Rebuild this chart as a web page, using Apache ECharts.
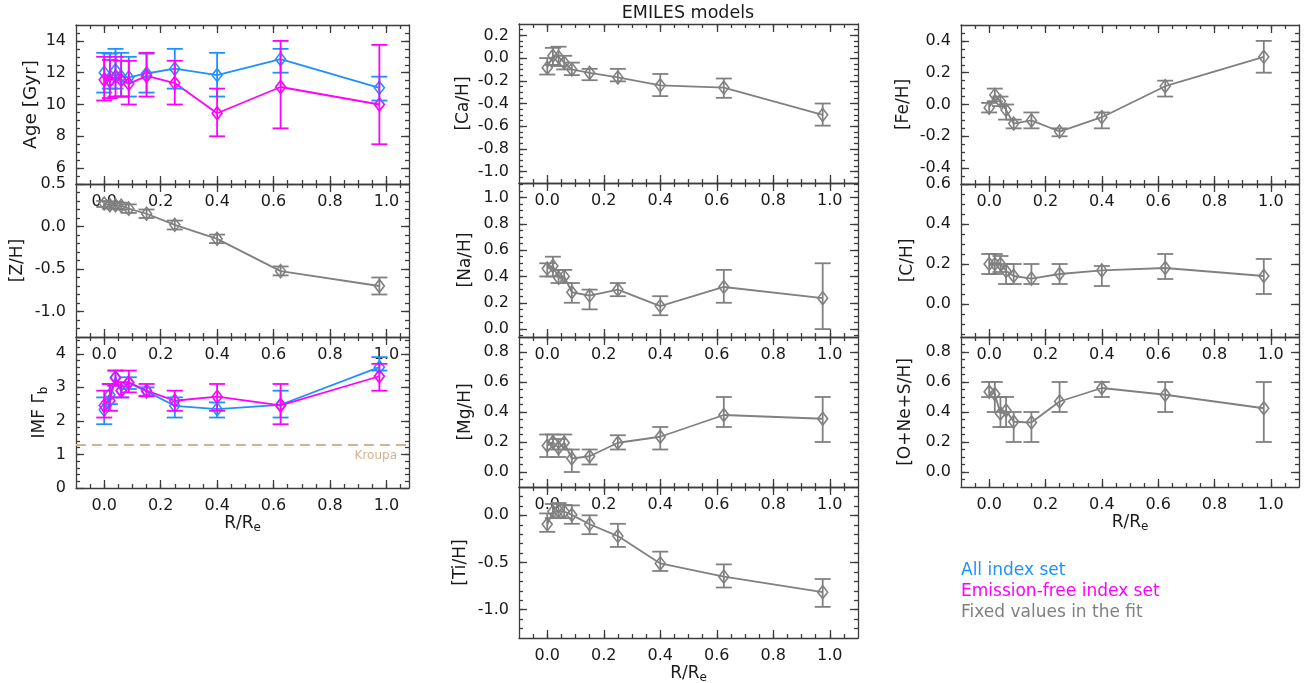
<!DOCTYPE html>
<html><head><meta charset="utf-8">
<script src="https://cdn.jsdelivr.net/npm/echarts@6/dist/echarts.min.js"></script>
<style>html,body{margin:0;padding:0;background:#fff}#c{width:1314px;height:683px}</style>
</head><body><div id="c"></div>
<script>
// ---------------- data ----------------
const R = [0.0, 0.02, 0.04, 0.06, 0.087, 0.15, 0.25, 0.40, 0.625, 0.975];
const xTickLabels = [0.0, 0.2, 0.4, 0.6, 0.8, 1.0];

const ageAll   = [12.0, 11.5, 12.15, 11.75, 11.7, 11.95, 12.25, 11.85, 12.85, 11.05];
const ageAllLo = [10.75, 11.0, 11.0, 10.5, 10.5, 10.75, 11.0, 10.5, 12.0, 10.25];
const ageAllHi = [13.25, 13.2, 13.5, 13.25, 13.0, 13.2, 13.5, 13.25, 13.5, 11.75];
const ageEF    = [11.55, 11.5, 11.75, 11.55, 11.3, 11.8, 11.35, 9.45, 11.1, 10.0];
const ageEFLo  = [10.25, 10.4, 10.5, 10.5, 10.0, 10.5, 10.0, 8.0, 8.5, 7.5];
const ageEFHi  = [13.0, 12.8, 13.0, 12.75, 12.75, 13.25, 12.75, 11.0, 14.0, 13.75];
const ageTicks = [6, 8, 10, 12, 14];

const zh   = [0.27, 0.25, 0.25, 0.245, 0.21, 0.15, 0.02, -0.145, -0.525, -0.70];
const zhLo = [0.23, 0.21, 0.21, 0.20, 0.16, 0.10, -0.035, -0.195, -0.575, -0.80];
const zhHi = [0.30, 0.29, 0.29, 0.28, 0.26, 0.20, 0.07, -0.095, -0.47, -0.60];
const zhTicks = [0.5, 0.0, -0.5, -1.0];

const imfAll   = [2.33, 2.78, 3.3, 2.9, 3.13, 2.88, 2.45, 2.35, 2.48, 3.6];
const imfAllLo = [1.9, 2.5, 3.05, 2.7, 2.95, 2.75, 2.1, 2.1, 2.1, 3.5];
const imfAllHi = [2.7, 3.1, 3.5, 3.15, 3.3, 3.0, 2.7, 2.55, 2.9, 3.9];
const imfEF    = [2.46, 2.6, 3.28, 2.9, 3.15, 2.9, 2.6, 2.72, 2.46, 3.33];
const imfEFLo  = [2.1, 2.3, 3.05, 2.7, 2.85, 2.73, 2.3, 2.3, 1.9, 2.9];
const imfEFHi  = [2.9, 3.1, 3.5, 3.15, 3.5, 3.1, 2.9, 3.1, 3.1, 3.7];
const imfTicks = [0, 1, 2, 3, 4];
const KROUPA = 1.3;

const cah   = [-0.085, 0.02, 0.01, -0.04, -0.10, -0.13, -0.17, -0.24, -0.26, -0.50];
const cahLo = [-0.145, -0.06, -0.07, -0.10, -0.15, -0.195, -0.205, -0.335, -0.35, -0.595];
const cahHi = [0.0, 0.09, 0.10, 0.02, -0.04, -0.095, -0.095, -0.14, -0.18, -0.40];
const cahTicks = [0.2, 0.0, -0.2, -0.4, -0.6, -0.8, -1.0];

const nah   = [0.46, 0.48, 0.39, 0.40, 0.28, 0.255, 0.30, 0.175, 0.32, 0.235];
const nahLo = [0.40, 0.40, 0.35, 0.35, 0.20, 0.15, 0.25, 0.105, 0.20, 0.0];
const nahHi = [0.50, 0.55, 0.45, 0.45, 0.35, 0.30, 0.35, 0.25, 0.45, 0.50];
const nahTicks = [0.0, 0.2, 0.4, 0.6, 0.8, 1.0];

const mgh   = [0.175, 0.20, 0.16, 0.195, 0.09, 0.105, 0.195, 0.235, 0.38, 0.355];
const mghLo = [0.10, 0.15, 0.10, 0.15, 0.0, 0.05, 0.15, 0.15, 0.30, 0.20];
const mghHi = [0.25, 0.25, 0.22, 0.25, 0.15, 0.15, 0.245, 0.30, 0.50, 0.50];
const mghTicks = [0.0, 0.2, 0.4, 0.6, 0.8];

const tih   = [-0.095, 0.04, 0.05, 0.04, 0.005, -0.095, -0.22, -0.51, -0.65, -0.815];
const tihLo = [-0.175, -0.03, -0.02, -0.03, -0.09, -0.20, -0.335, -0.59, -0.765, -0.97];
const tihHi = [0.02, 0.12, 0.13, 0.11, 0.105, 0.0, -0.09, -0.385, -0.52, -0.675];
const tihTicks = [0.0, -0.5, -1.0];

const feh   = [-0.02, 0.06, 0.02, -0.035, -0.12, -0.10, -0.17, -0.08, 0.115, 0.30];
const fehLo = [-0.05, 0.02, -0.01, -0.095, -0.15, -0.15, -0.20, -0.15, 0.05, 0.20];
const fehHi = [0.01, 0.10, 0.05, 0.0, -0.095, -0.05, -0.15, -0.05, 0.15, 0.40];
const fehTicks = [0.4, 0.2, 0.0, -0.2, -0.4];

const ch   = [0.20, 0.20, 0.20, 0.165, 0.14, 0.127, 0.15, 0.168, 0.18, 0.14];
const chLo = [0.15, 0.15, 0.16, 0.10, 0.10, 0.10, 0.10, 0.09, 0.125, 0.05];
const chHi = [0.25, 0.25, 0.24, 0.20, 0.20, 0.20, 0.20, 0.19, 0.25, 0.225];
const chTicks = [0.0, 0.2, 0.4, 0.6];

const ones   = [0.535, 0.52, 0.39, 0.41, 0.335, 0.33, 0.47, 0.56, 0.515, 0.425];
const onesLo = [0.50, 0.40, 0.30, 0.30, 0.20, 0.20, 0.40, 0.50, 0.40, 0.20];
const onesHi = [0.60, 0.60, 0.50, 0.50, 0.40, 0.40, 0.60, 0.60, 0.60, 0.60];
const onesTicks = [0.0, 0.2, 0.4, 0.6, 0.8];

const legendItems = ['All index set', 'Emission-free index set', 'Fixed values in the fit'];

// ---------------- style ----------------
const FONT = 'DejaVu Sans';
const BLUE = '#1e90ff', MAG = '#ff00ff', GREY = '#808080', TAN = '#d2b48c';
const FRAME = '#3c3c3c', TXT = '#1a1a1a';

const LX = {left: 76, width: 333, xmin: -0.1, xmax: 1.08};
const MX = {left: 519, width: 339, xmin: -0.1, xmax: 1.1};
const RX = {left: 961, width: 338, xmin: -0.1, xmax: 1.1};

const panels = [
  {col: LX, top: 25, height: 159, ymin: 5, ymax: 15, yTicks: ageTicks, yMinor: 0.5, dec: 0,
   name: 'Age [Gyr]', gap: 35, nameSize: 18.5,
   series: [{v: ageAll, lo: ageAllLo, hi: ageAllHi, c: BLUE}, {v: ageEF, lo: ageEFLo, hi: ageEFHi, c: MAG}]},
  {col: LX, top: 184, height: 153, ymin: -1.3, ymax: 0.5, yTicks: zhTicks, yMinor: 0.1, dec: 1,
   name: '[Z/H]', gap: 50, series: [{v: zh, lo: zhLo, hi: zhHi, c: GREY}]},
  {col: LX, top: 337, height: 151, ymin: 0, ymax: 4.5, yTicks: imfTicks, yMinor: 0.2, dec: 0,
   name: '{a|IMF Γ}{b|b}', gap: 26, xname: true, kroupa: true,
   series: [{v: imfAll, lo: imfAllLo, hi: imfAllHi, c: BLUE}, {v: imfEF, lo: imfEFLo, hi: imfEFHi, c: MAG}]},

  {col: MX, top: 24, height: 159, ymin: -1.1, ymax: 0.3, yTicks: cahTicks, yMinor: 0.05, dec: 1,
   name: '[Ca/H]', gap: 47, series: [{v: cah, lo: cahLo, hi: cahHi, c: GREY}]},
  {col: MX, top: 183, height: 154, ymin: -0.06, ymax: 1.11, yTicks: nahTicks, yMinor: 0.05, dec: 1,
   name: '[Na/H]', gap: 45, series: [{v: nah, lo: nahLo, hi: nahHi, c: GREY}]},
  {col: MX, top: 337, height: 150, ymin: -0.1, ymax: 0.9, yTicks: mghTicks, yMinor: 0.05, dec: 1,
   name: '[Mg/H]', gap: 45, series: [{v: mgh, lo: mghLo, hi: mghHi, c: GREY}]},
  {col: MX, top: 487, height: 151, ymin: -1.3, ymax: 0.3, yTicks: tihTicks, yMinor: 0.1, dec: 1,
   name: '[Ti/H]', gap: 50, xname: true, series: [{v: tih, lo: tihLo, hi: tihHi, c: GREY}]},

  {col: RX, top: 25, height: 159, ymin: -0.5, ymax: 0.5, yTicks: fehTicks, yMinor: 0.05, dec: 1,
   name: '[Fe/H]', gap: 49, series: [{v: feh, lo: fehLo, hi: fehHi, c: GREY}]},
  {col: RX, top: 184, height: 153, ymin: -0.165, ymax: 0.6, yTicks: chTicks, yMinor: 0.05, dec: 1,
   name: '[C/H]', gap: 45, series: [{v: ch, lo: chLo, hi: chHi, c: GREY}]},
  {col: RX, top: 337, height: 150, ymin: -0.1, ymax: 0.9, yTicks: onesTicks, yMinor: 0.05, dec: 1,
   name: '[O+Ne+S/H]', gap: 47, xname: true, series: [{v: ones, lo: onesLo, hi: onesHi, c: GREY}]}
];

function minorVals(min, max, step) {
  const out = [];
  const k0 = Math.ceil(min / step - 1e-9), k1 = Math.floor(max / step + 1e-9);
  for (let k = k0; k <= k1; k++) {
    const v = +(k * step).toFixed(6);
    if (v > min + 1e-9 && v < max - 1e-9) out.push(v);
  }
  return out;
}

const grids = [], xAxes = [], yAxes = [], series = [];
const lineSty = {color: FRAME, width: 1.3};
const richName = {
  a: {fontSize: 17, fontFamily: FONT, color: TXT},
  b: {fontSize: 12, fontFamily: FONT, color: TXT, verticalAlign: 'bottom', padding: [8, 0, 0, 0]}
};

panels.forEach((p, gi) => {
  const c = p.col;
  grids.push({left: c.left, top: p.top, width: c.width, height: p.height,
              containLabel: false, outerBoundsMode: 'none', show: false});
  const xMin = minorVals(c.xmin, c.xmax, 0.05);
  const yMin = minorVals(p.ymin, p.ymax, p.yMinor);
  const xbase = {gridIndex: gi, type: 'value', min: c.xmin, max: c.xmax, splitLine: {show: false}, silent: true};
  const ybase = {gridIndex: gi, type: 'value', min: p.ymin, max: p.ymax, splitLine: {show: false}, silent: true};
  const xMajor = Object.assign({}, xbase, {
    position: 'bottom',
    axisLine: {show: true, onZero: false, lineStyle: lineSty},
    axisTick: {show: true, inside: true, length: 8, customValues: xTickLabels, lineStyle: lineSty},
    axisLabel: {show: true, customValues: xTickLabels, formatter: v => Number(v).toFixed(1),
                margin: 10, fontSize: 16, fontFamily: FONT, color: TXT}
  });
  if (p.xname) {
    Object.assign(xMajor, {name: '{a|R/R}{b|e}', nameLocation: 'middle', nameGap: 25,
      nameTextStyle: {rich: richName}});
  }
  xAxes.push(xMajor);
  xAxes.push(Object.assign({}, xbase, {position: 'bottom', axisLine: {show: false, onZero: false},
    axisTick: {show: true, inside: true, length: 4, customValues: xMin, lineStyle: lineSty}, axisLabel: {show: false}}));
  xAxes.push(Object.assign({}, xbase, {position: 'top', axisLine: {show: true, onZero: false, lineStyle: lineSty},
    axisTick: {show: true, inside: true, length: 8, customValues: xTickLabels, lineStyle: lineSty}, axisLabel: {show: false}}));
  xAxes.push(Object.assign({}, xbase, {position: 'top', axisLine: {show: false, onZero: false},
    axisTick: {show: true, inside: true, length: 4, customValues: xMin, lineStyle: lineSty}, axisLabel: {show: false}}));
  const isRich = p.name.indexOf('{a|') === 0;
  yAxes.push(Object.assign({}, ybase, {
    position: 'left',
    axisLine: {show: true, onZero: false, lineStyle: lineSty},
    axisTick: {show: true, inside: true, length: 8, customValues: p.yTicks, lineStyle: lineSty},
    axisLabel: {show: true, customValues: p.yTicks, formatter: v => Number(v).toFixed(p.dec),
                margin: 10, fontSize: 16, fontFamily: FONT, color: TXT},
    name: p.name, nameLocation: 'middle', nameGap: p.gap, nameRotate: 90,
    nameTextStyle: isRich ? {rich: richName} : {fontSize: p.nameSize || 17, fontFamily: FONT, color: TXT}
  }));
  yAxes.push(Object.assign({}, ybase, {position: 'left', axisLine: {show: false, onZero: false},
    axisTick: {show: true, inside: true, length: 4, customValues: yMin, lineStyle: lineSty}, axisLabel: {show: false}}));
  yAxes.push(Object.assign({}, ybase, {position: 'right', axisLine: {show: true, onZero: false, lineStyle: lineSty},
    axisTick: {show: true, inside: true, length: 8, customValues: p.yTicks, lineStyle: lineSty}, axisLabel: {show: false}}));
  yAxes.push(Object.assign({}, ybase, {position: 'right', axisLine: {show: false, onZero: false},
    axisTick: {show: true, inside: true, length: 4, customValues: yMin, lineStyle: lineSty}, axisLabel: {show: false}}));

  const ai = gi * 4;
  p.series.forEach((s, si) => {
    const ls = {
      type: 'line', xAxisIndex: ai, yAxisIndex: ai,
      data: R.map((x, i) => [x, s.v[i]]),
      symbol: 'diamond', symbolSize: [10, 13], showAllSymbol: true,
      lineStyle: {color: s.c, width: 1.8},
      itemStyle: {color: 'rgba(0,0,0,0)', borderColor: s.c, borderWidth: 1.6},
      emphasis: {disabled: true}, z: 3
    };
    if (p.kroupa && si === 0) {
      ls.markLine = {
        silent: true, symbol: 'none', animation: false,
        data: [{yAxis: KROUPA}],
        lineStyle: {color: TAN, type: [10, 6], width: 2},
        label: {show: true, formatter: 'Kroupa', position: 'insideEndBottom', color: TAN,
                fontSize: 12, fontFamily: FONT, distance: [12, 5]}
      };
    }
    series.push(ls);
    series.push({
      type: 'custom', xAxisIndex: ai, yAxisIndex: ai,
      data: R.map((x, i) => [x, s.lo[i], s.hi[i]]),
      encode: {x: 0, y: [1, 2]}, z: 4,
      renderItem: (params, api) => {
        const x = api.value(0);
        const a = api.coord([x, api.value(1)]);
        const b = api.coord([x, api.value(2)]);
        const w = 8;
        const st = {stroke: s.c, lineWidth: 1.8, fill: null};
        return {type: 'group', children: [
          {type: 'line', shape: {x1: a[0], y1: a[1], x2: b[0], y2: b[1]}, style: st},
          {type: 'line', shape: {x1: a[0] - w, y1: a[1], x2: a[0] + w, y2: a[1]}, style: st},
          {type: 'line', shape: {x1: b[0] - w, y1: b[1], x2: b[0] + w, y2: b[1]}, style: st}
        ]};
      }
    });
  });
});

const legendColors = [BLUE, MAG, GREY];
const graphics = [
  {type: 'text', x: 688, y: 13, style: {text: 'EMILES models', textAlign: 'center', textVerticalAlign: 'middle',
    font: '17.5px "DejaVu Sans"', fill: TXT}}
];
legendItems.forEach((t, i) => {
  graphics.push({type: 'text', x: 961, y: 571 + i * 21, style: {text: t, textAlign: 'left', textVerticalAlign: 'middle',
    font: '17px "DejaVu Sans"', fill: legendColors[i]}});
});

const chart = echarts.init(document.getElementById('c'), null, {renderer: 'canvas'});
chart.setOption({
  animation: false,
  backgroundColor: '#ffffff',
  textStyle: {fontFamily: FONT},
  grid: grids, xAxis: xAxes, yAxis: yAxes, series: series, graphic: graphics
});
</script>
</body></html>
